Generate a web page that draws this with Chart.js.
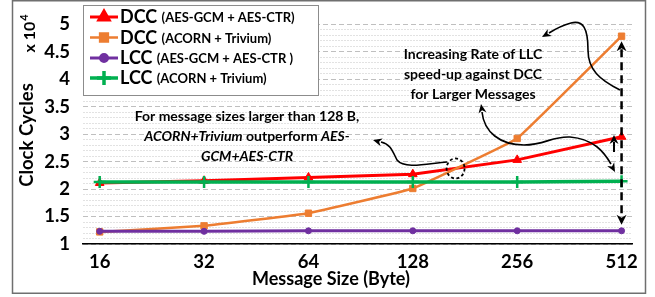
<!DOCTYPE html>
<html>
<head>
<meta charset="utf-8">
<script src="https://cdn.jsdelivr.net/npm/chart.js@4.4.0/dist/chart.umd.min.js"></script>
<style>
    html, body { margin: 0; padding: 0; background: #fff; }
    #wrap { width: 655px; height: 297px; position: relative; }
</style>
</head>
<body>
<div id="wrap"><canvas id="chart" width="655" height="297"></canvas></div>
<script>
// Chart values (x 10^4 clock cycles)
const sizes = ['16', '32', '64', '128', '256', '512'];
const dccAes = [2.11, 2.15, 2.21, 2.27, 2.53, 2.95];
const dccAcorn = [1.22, 1.33, 1.56, 2.01, 2.92, 4.78];
const llcAes = [1.23, 1.23, 1.24, 1.24, 1.24, 1.24];
const llcAcorn = [2.13, 2.13, 2.13, 2.13, 2.13, 2.14];
const yLabels = [1, 1.5, 2, 2.5, 3, 3.5, 4, 4.5, 5];

const FONT = 'Lato, "DejaVu Sans", sans-serif';

const toPoints = arr => arr.map((v, i) => ({ x: i, y: v }));

const datasets = [
    { label: 'DCC', sub: '(AES-GCM + AES-CTR)', data: toPoints(dccAes), color: '#ff0000',
      pointStyle: 'triangle', radius: 5, lineWidth: 3, legendRadius: 6, tension: 0, order: 3 },
    { label: 'DCC', sub: '(ACORN + Trivium)', data: toPoints(dccAcorn), color: '#ed7d31',
      pointStyle: 'rect', radius: 4.5, lineWidth: 2.5, legendRadius: 5.5, tension: 0.06, order: 2 },
    { label: 'LCC', sub: '(AES-GCM + AES-CTR )', data: toPoints(llcAes), color: '#7030a0',
      pointStyle: 'circle', radius: 3, lineWidth: 3, legendRadius: 3.5, tension: 0, order: 1 },
    { label: 'LCC', sub: '(ACORN + Trivium)', data: toPoints(llcAcorn), color: '#00b050',
      pointStyle: 'cross', radius: 6, lineWidth: 3.5, legendRadius: 7, tension: 0, order: 0 }
].map(d => ({
    ...d,
    borderColor: d.color,
    backgroundColor: d.color,
    borderWidth: d.lineWidth,
    pointRadius: d.radius,
    pointHoverRadius: d.radius,
    pointBorderWidth: d.pointStyle === 'cross' ? 2.5 : 1,
    pointBackgroundColor: d.color,
    pointBorderColor: d.color,
    fill: false
}));

function arrowHead(ctx, tx, ty, fx, fy, len = 9, half = 4.5) {
    const a = Math.atan2(ty - fy, tx - fx);
    ctx.beginPath();
    ctx.moveTo(tx, ty);
    ctx.lineTo(tx - len * Math.cos(a) + half * Math.sin(a), ty - len * Math.sin(a) - half * Math.cos(a));
    ctx.lineTo(tx - len * 0.7 * Math.cos(a), ty - len * 0.7 * Math.sin(a));
    ctx.lineTo(tx - len * Math.cos(a) - half * Math.sin(a), ty - len * Math.sin(a) + half * Math.cos(a));
    ctx.closePath();
    ctx.fill();
}

// Draw text made of styled pieces, centred on cx
function drawRuns(ctx, runs, cx, cy, size) {
    const fontOf = r => (r.italic ? 'italic ' : '') + 'bold ' + size + 'px ' + FONT;
    let total = 0;
    runs.forEach(r => { ctx.font = fontOf(r); total += ctx.measureText(r.t).width; });
    let x = cx - total / 2;
    ctx.textAlign = 'left';
    ctx.textBaseline = 'middle';
    runs.forEach(r => {
        ctx.font = fontOf(r);
        ctx.fillText(r.t, x, cy);
        x += ctx.measureText(r.t).width;
    });
}

const deco = {
    id: 'deco',
    beforeDraw(chart) {
        const ctx = chart.ctx;
        ctx.save();
        ctx.fillStyle = '#fff';
        ctx.fillRect(0, 0, chart.width, chart.height);
        ctx.restore();
    },
    afterDraw(chart) {
        const { ctx, scales: { x, y } } = chart;
        ctx.save();

        // outer frame
        ctx.strokeStyle = '#6f6f6f';
        ctx.lineWidth = 1.5;
        ctx.strokeRect(12.5, 0.75, 633, 292.5);

        ctx.fillStyle = '#000';
        // axis titles
        ctx.save();
        ctx.translate(27, 135);
        ctx.rotate(-Math.PI / 2);
        ctx.font = 'bold 18.5px ' + FONT;
        ctx.textAlign = 'center';
        ctx.textBaseline = 'middle';
        ctx.fillText('Clock Cycles', 0, 0);
        ctx.restore();

        ctx.save();
        ctx.translate(29, 34);
        ctx.rotate(-Math.PI / 2);
        ctx.font = 'bold 16px ' + FONT;
        const w1 = ctx.measureText('x 10').width;
        ctx.font = 'bold 11px ' + FONT;
        const w2 = ctx.measureText('4').width;
        ctx.textAlign = 'left';
        ctx.textBaseline = 'middle';
        ctx.font = 'bold 16px ' + FONT;
        ctx.fillText('x 10', -(w1 + w2) / 2, 1);
        ctx.font = 'bold 11px ' + FONT;
        ctx.fillText('4', -(w1 + w2) / 2 + w1 + 1, -5);
        ctx.restore();

        ctx.font = 'bold 18px ' + FONT;
        ctx.textAlign = 'center';
        ctx.textBaseline = 'middle';
        ctx.fillText('Message Size (Byte)', 331, 279);

        // legend
        ctx.fillStyle = '#fff';
        ctx.fillRect(83.5, 5.5, 235, 90);
        ctx.strokeStyle = '#8c8c8c';
        ctx.lineWidth = 1;
        ctx.strokeRect(83.5, 5.5, 235, 90);
        const rows = [17, 37.5, 58, 78];
        chart.data.datasets.forEach((d, i) => {
            const ry = rows[i];
            ctx.strokeStyle = d.color;
            ctx.fillStyle = d.color;
            ctx.lineWidth = d.lineWidth;
            ctx.beginPath();
            ctx.moveTo(90, ry);
            ctx.lineTo(118, ry);
            ctx.stroke();
            Chart.helpers.drawPoint(ctx, {
                pointStyle: d.pointStyle, radius: d.legendRadius, rotation: 0,
                borderWidth: d.pointStyle === 'cross' ? 2.5 : 1
            }, 104, ry);
            ctx.fillStyle = '#000';
            ctx.textAlign = 'left';
            ctx.textBaseline = 'middle';
            ctx.font = 'bold 18px ' + FONT;
            ctx.fillText(d.label, 120, ry + 0.5);
            const lw = ctx.measureText(d.label + ' ').width;
            ctx.font = 'bold 13px ' + FONT;
            ctx.fillText(d.sub, 120 + lw, ry + 1);
        });

        // annotation texts
        ctx.fillStyle = '#000';
        drawRuns(ctx, [{ t: 'Increasing Rate of LLC' }], 473, 54, 14);
        drawRuns(ctx, [{ t: 'speed-up against DCC' }], 473, 74, 14);
        drawRuns(ctx, [{ t: 'for Larger Messages' }], 473, 94, 14);
        drawRuns(ctx, [{ t: 'For message sizes larger than 128 B,' }], 247, 116, 14);
        drawRuns(ctx, [{ t: 'ACORN+Trivium', italic: true }, { t: ' outperform ' }, { t: 'AES-', italic: true }], 247, 136, 14);
        drawRuns(ctx, [{ t: 'GCM+AES-CTR', italic: true }], 247, 156, 14);

        // dashed circle where the two DCC lines cross
        const t = (dccAcorn[3] - dccAes[3]) / ((dccAes[4] - dccAes[3]) - (dccAcorn[4] - dccAcorn[3]));
        const cx = x.getPixelForValue(3 + t);
        const cy = y.getPixelForValue(dccAes[3] + t * (dccAes[4] - dccAes[3]));
        ctx.strokeStyle = '#000';
        ctx.lineWidth = 1.8;
        ctx.setLineDash([3, 2.5]);
        ctx.beginPath();
        ctx.ellipse(cx + 1, cy, 9, 10, 0, 0, Math.PI * 2);
        ctx.stroke();

        // dashed double arrow at 512
        const xp = x.getPixelForValue(5);
        const top = y.getPixelForValue(dccAcorn[5]) + 5;
        const bot = y.getPixelForValue(llcAes[5]) - 6;
        ctx.lineWidth = 2.5;
        ctx.setLineDash([8, 5]);
        ctx.beginPath();
        ctx.moveTo(xp, top + 8);
        ctx.lineTo(xp, bot - 8);
        ctx.stroke();
        ctx.setLineDash([]);
        ctx.fillStyle = '#000';
        arrowHead(ctx, xp, top, xp, top + 10, 10, 5);
        arrowHead(ctx, xp, bot, xp, bot - 10, 10, 5);

        // small up arrow towards DCC (AES) at 512
        ctx.lineWidth = 2;
        ctx.beginPath();
        ctx.moveTo(614, 152);
        ctx.lineTo(614, 142);
        ctx.stroke();
        arrowHead(ctx, 614, 135, 614, 145, 9, 4.5);

        // curved pointers
        ctx.lineWidth = 1.6;
        ctx.beginPath();
        ctx.moveTo(620, 90);
        ctx.bezierCurveTo(600, 80, 588, 70, 588, 50);
        ctx.bezierCurveTo(588, 28, 583, 20, 571, 23);
        ctx.quadraticCurveTo(560, 26, 549, 33);
        ctx.stroke();
        arrowHead(ctx, 542, 37, 556, 29, 9, 4);

        ctx.beginPath();
        ctx.moveTo(482, 112);
        ctx.bezierCurveTo(484, 132, 500, 145, 524, 145);
        ctx.bezierCurveTo(545, 145, 552, 136, 570, 137);
        ctx.bezierCurveTo(594, 139, 604, 152, 611, 164);
        ctx.stroke();
        arrowHead(ctx, 481, 104, 483, 116, 9, 4);
        arrowHead(ctx, 615, 172, 609, 161, 9, 4);

        ctx.beginPath();
        ctx.moveTo(447, 162);
        ctx.bezierCurveTo(430, 163, 405, 170, 397, 160);
        ctx.bezierCurveTo(392, 150, 390, 144, 381, 142);
        ctx.stroke();
        arrowHead(ctx, 373, 140, 384, 143, 9, 4);

        ctx.restore();
    }
};

new Chart(document.getElementById('chart'), {
    type: 'line',
    data: { datasets },
    options: {
        responsive: false,
        animation: false,
        layout: { padding: { top: 10, right: 23, left: 0, bottom: 0 } },
        plugins: { legend: { display: false }, tooltip: { enabled: false } },
        scales: {
            x: {
                type: 'linear',
                min: -0.16,
                max: 5.1,
                afterFit: s => { s.height = 53; },
                grid: { display: false, drawTicks: false },
                border: { display: true, color: '#000', width: 1.5 },
                ticks: {
                    stepSize: 1,
                    includeBounds: false,
                    padding: 7,
                    color: '#000',
                    font: { family: FONT, size: 18.5, weight: 'bold' },
                    callback: v => sizes[v] ?? ''
                }
            },
            y: {
                min: 1,
                max: 5,
                afterFit: s => { s.width = 83; },
                grid: {
                    drawTicks: false,
                    color: c => yLabels.includes(Math.round(c.tick.value * 10) / 10) ? '#bfbfbf' : '#e2e2e2',
                    lineWidth: 1
                },
                border: {
                    display: false,
                    dash: c => yLabels.includes(Math.round(c.tick.value * 10) / 10) ? [5, 3] : [2, 1]
                },
                ticks: {
                    stepSize: 0.1,
                    autoSkip: false,
                    padding: 13,
                    color: '#000',
                    font: { family: FONT, size: 18.5, weight: 'bold' },
                    callback: v => {
                        const r = Math.round(v * 10) / 10;
                        return yLabels.includes(r) ? String(r) : '';
                    }
                }
            }
        }
    },
    plugins: [deco]
});
</script>
</body>
</html>
